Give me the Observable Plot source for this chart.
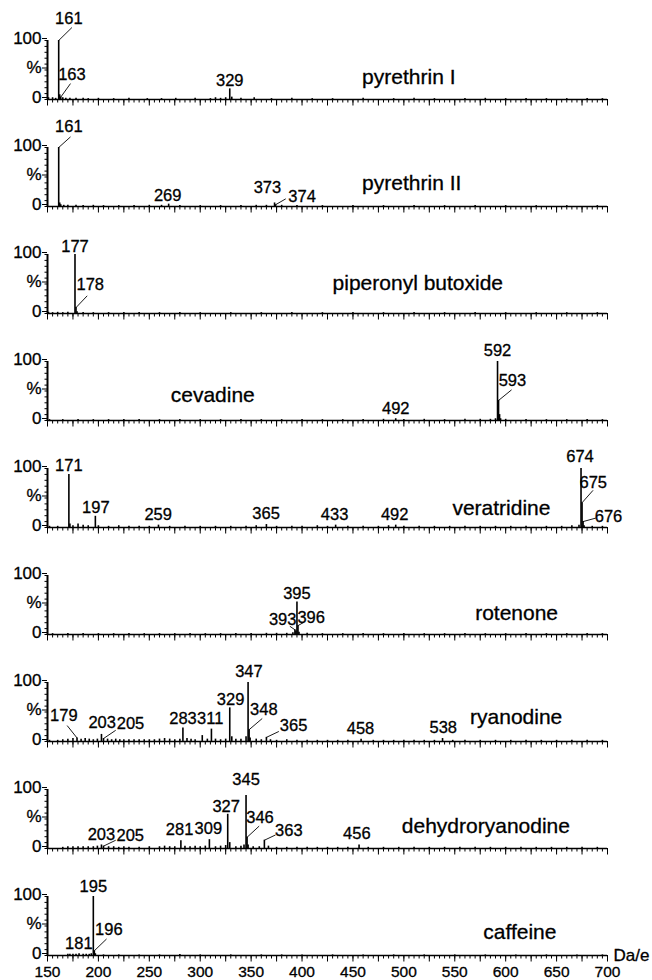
<!DOCTYPE html>
<html>
<head>
<meta charset="utf-8">
<script src="https://cdn.jsdelivr.net/npm/d3@7"></script>
<script src="https://cdn.jsdelivr.net/npm/@observablehq/plot@0.6"></script>
<style>
html, body { margin: 0; padding: 0; background: #fff; }
#chart svg { display: block; }
#chart svg text { stroke: #000; stroke-width: 0.3px; }
</style>
</head>
<body>
<div id="chart"></div>
<script>
// ---------- data ----------
const compounds = ["pyrethrin I", "pyrethrin II", "piperonyl butoxide", "cevadine", "veratridine",
  "rotenone", "ryanodine", "dehydroryanodine", "caffeine"];
const xDomain = [150, 700];
const massTickLabels = [150, 200, 250, 300, 350, 400, 450, 500, 550, 600, 650, 700];
const pctTicks = [0, 50, 100];
const pctTickLabels = ["0", "%", "100"];
const axisUnit = "Da/e";

// peaks: [m/z, relative intensity %]
const peaksPyrethrinI = [[151,3],[155,3],[158,2],[161,100],[162,8],[163,4],[165,3],[168,2],[172,2],[178,2],[185,2],[190,1.5],[200,2],[215,1.5],[230,2],[248,1.5],[262,1.5],[276,2],[295,2],[310,1.5],[315,3],[320,2],[325,3],[329,18],[331,4],[340,2],[353,3],[370,1.5],[390,2],[410,1.5],[430,1.5],[460,2],[490,1.5],[510,2],[530,1.5],[560,1.5],[580,2],[600,1.5],[620,1.5],[640,1.5],[660,1.5],[680,1.5],[695,1.5]];
const peaksPyrethrinII = [[161,100],[162,6],[163,3],[166,2],[170,2],[178,2],[185,1.5],[195,2],[205,1.5],[220,1.5],[235,1.5],[250,2],[262,2],[269,4],[280,1.5],[300,1.5],[320,1.5],[340,1.5],[355,2],[365,2],[373,6],[374,3],[380,2],[395,1.5],[420,1.5],[450,1.5],[480,1.5],[510,1.5],[540,1.5],[570,1.5],[600,1.5],[630,1.5],[660,1.5],[690,1.5]];
const peaksPiperonyl = [[151,2],[155,1.5],[160,2],[165,1.5],[170,2],[177,100],[178,10],[179,3],[185,1.5],[195,1.5],[210,1.5],[225,1.5],[240,1.5],[260,1.5],[280,1.5],[300,1.5],[330,1.5],[360,1.5],[390,1.5],[420,1.5],[450,1.5],[480,1.5],[510,1.5],[540,1.5],[570,1.5],[600,1.5],[630,1.5],[660,1.5],[690,1.5]];
const peaksCevadine = [[152,1.5],[165,1.5],[180,1.5],[195,1.5],[210,1.5],[225,1.5],[240,1.5],[260,1.5],[280,1.5],[300,1.5],[320,1.5],[340,1.5],[360,1.5],[380,1.5],[400,1.5],[420,1.5],[440,1.5],[460,1.5],[480,2],[492,3],[500,1.5],[520,2],[540,1.5],[560,2],[575,2],[585,2],[590,3],[592,100],[593,34],[594,10],[595,3],[600,2],[620,1.5],[640,1.5],[660,1.5],[680,1.5],[695,1.5]];
const peaksVeratridine = [[152,2],[160,2],[171,90],[172,6],[175,3],[180,6],[185,4],[190,3],[197,19],[200,3],[210,2],[220,3],[230,2],[240,2],[250,2],[259,4],[270,2],[285,2],[300,2],[315,2],[330,2],[345,2],[355,3],[365,5],[375,2],[390,2],[400,2],[415,3],[425,2],[433,4],[445,2],[460,2],[475,2],[485,3],[492,4],[500,2],[515,2],[530,2],[545,2],[560,2],[575,2],[590,2],[605,2],[620,2],[640,2],[655,2],[665,3],[672,4],[674,100],[675,42],[676,10],[677,3],[685,2],[695,2]];
const peaksRotenone = [[155,1.5],[170,1.5],[185,1.5],[200,1.5],[215,1.5],[230,1.5],[245,1.5],[260,1.5],[275,1.5],[290,1.5],[305,1.5],[320,1.5],[335,1.5],[350,1.5],[365,2],[375,2],[385,2],[391,3],[393,8],[394,6],[395,55],[396,15],[397,4],[405,2],[420,1.5],[440,1.5],[460,1.5],[480,1.5],[500,1.5],[520,1.5],[540,1.5],[560,1.5],[580,1.5],[600,1.5],[620,1.5],[640,1.5],[660,1.5],[680,1.5],[695,1.5]];
const peaksRyanodine = [[152,2],[160,2],[165,3],[170,4],[175,5],[179,6],[183,4],[187,5],[191,4],[195,3],[199,4],[203,12],[205,5],[209,4],[213,3],[217,4],[221,3],[225,3],[230,3],[235,3],[240,3],[245,3],[250,3],[255,3],[260,4],[265,5],[270,4],[275,3],[280,4],[283,23],[287,5],[291,4],[295,3],[302,10],[307,4],[311,21],[315,4],[320,3],[325,4],[329,57],[331,8],[335,4],[340,4],[345,8],[347,100],[348,20],[349,6],[355,4],[360,3],[365,7],[369,3],[375,2],[385,3],[395,2],[405,2],[415,2],[425,2],[435,2],[445,2],[458,4],[470,2],[480,2],[490,2],[500,2],[510,2],[520,2],[530,2],[538,5],[548,2],[560,2],[575,2],[590,2],[605,2],[620,2],[635,2],[650,2],[665,2],[680,2],[695,2]];
const peaksDehydroryanodine = [[165,2],[170,3],[175,3],[180,3],[185,3],[190,3],[195,3],[199,4],[203,6],[205,4],[210,3],[215,3],[220,2],[225,3],[230,2],[240,2],[250,3],[260,3],[265,4],[270,3],[275,3],[281,13],[285,4],[290,3],[295,4],[300,3],[305,4],[309,15],[315,3],[320,4],[325,5],[327,58],[329,10],[335,3],[340,4],[343,6],[345,90],[346,19],[347,6],[352,3],[358,3],[363,14],[367,4],[375,2],[385,2],[395,2],[405,2],[415,2],[425,2],[435,2],[445,2],[456,6],[465,2],[480,2],[495,2],[510,2],[525,2],[540,2],[555,2],[570,2],[585,2],[600,2],[615,2],[630,2],[645,2],[660,2],[675,2],[690,2]];
const peaksCaffeine = [[170,2],[172,2],[175,2],[178,2],[181,3],[185,2],[188,2],[191,2],[193,3],[195,100],[196,8],[197,3],[205,1],[220,1],[240,1],[260,1],[280,1.5],[300,1],[330,1],[360,1],[380,1],[400,1],[430,1],[460,1],[490,1],[520,1],[550,1],[580,1],[610,1],[640,1],[670,1],[695,1]];

// ---------- annotation layout (data units: Da, %) ----------
// [labelled peak m/z, label centre m/z, label centre %, leader end m/z, leader end %]
const labelsPyrethrinI = [[161,171,137,174,122],[163,174,42,172.6,27],[329,329,31]];
const labelsPyrethrinII = [[161,171,135,172.6,118],[269,268,19],[373,366,31],[374,400,16,384,13]];
const labelsPiperonyl = [[177,177,113],[178,192,48,189,30]];
const labelsCevadine = [[592,592,118],[593,606.6,68,605.8,52],[492,492,20]];
const labelsVeratridine = [[171,171,105],[197,197.5,34],[259,258.7,22],[365,364.7,23],[433,432,22],[492,491,22],[674,673,120],[675,686,76,685.8,63],[676,701,19,688.6,16]];
const labelsRotenone = [[395,395,69],[393,381,25,388,14],[396,409,29,402,21]];
const labelsRyanodine = [[347,347.8,119],[329,329.8,71],[348,362.5,54,360.9,39],[365,391.7,26,377.2,17],[311,309.8,39],[283,283.1,39],[203,203.7,32],[205,231.5,30,217,19],[179,166,44,169.3,27],[458,457.4,22],[538,538.7,23]];
const labelsDehydroryanodine = [[345,345,117],[327,325.5,70],[346,358.7,52,357.9,38],[363,387,30,374,23],[309,308,33],[281,279.7,31],[203,203,24],[205,231.3,22,217,14],[456,453.8,25]];
const labelsCaffeine = [[195,195,117],[196,210.2,44,208,28],[181,180.8,20]];
// compound name anchor (left edge m/z, %)
const namePositions = [[459,37],[459,39],[430,51],[271,43],[547.7,33],[570,36],[565,41],[498,37],[578,39]];

const peakSets = [peaksPyrethrinI, peaksPyrethrinII, peaksPiperonyl, peaksCevadine, peaksVeratridine,
  peaksRotenone, peaksRyanodine, peaksDehydroryanodine, peaksCaffeine];
const labelSets = [labelsPyrethrinI, labelsPyrethrinII, labelsPiperonyl, labelsCevadine, labelsVeratridine,
  labelsRotenone, labelsRyanodine, labelsDehydroryanodine, labelsCaffeine];

// ---------- drawing ----------
const font = "'Liberation Sans', Arial, Helvetica, sans-serif";
const chart = document.getElementById("chart");
const minorMass = d3.range(xDomain[0], xDomain[1] + 1, 5);
const midMass = d3.range(xDomain[0], xDomain[1] + 1, 25);
const minorPct = d3.range(0, 101, 10);

compounds.forEach((name, i) => {
  const last = i === compounds.length - 1;
  const peaks = peakSets[i].map(([mz, pct]) => ({mz, pct}));
  const top = new Map(peaks.map(d => [d.mz, d.pct]));
  const labels = labelSets[i].map(([mz, tx, ty, lx, ly]) => ({mz, pct: top.get(mz), tx, ty, lx, ly, text: String(mz)}));
  const leaders = labels.filter(d => d.lx != null);
  const title = [{x: namePositions[i][0], y: namePositions[i][1], t: name}];
  const svg = Plot.plot({
    width: 652,
    height: last ? 124 : 107,
    marginLeft: 47,
    marginRight: 45,
    marginTop: 40,
    marginBottom: last ? 25 : 8,
    x: {domain: xDomain},
    y: {domain: [0, 100]},
    style: {fontFamily: font, fontSize: "16px", color: "#000", background: "#fff", overflow: "visible"},
    marks: [
      Plot.axisY(minorPct, {tickSize: 2.5, tickFormat: () => "", label: null}),
      Plot.axisY(pctTicks, {tickSize: 5, tickPadding: 1, label: null, fontSize: 17, dy: -2,
        tickFormat: d => pctTickLabels[pctTicks.indexOf(d)]}),
      Plot.axisX(minorMass, {tickSize: 3.5, tickFormat: () => "", label: null}),
      Plot.axisX(midMass, {tickSize: 6.5, tickPadding: 3.5, label: null, fontSize: 15.5,
        tickFormat: d => (last && massTickLabels.includes(d)) ? String(d) : ""}),
      Plot.ruleY([0], {strokeWidth: 1.6}),
      Plot.ruleX([xDomain[0]], {y1: 0, y2: 100, strokeWidth: 2}),
      Plot.ruleX(peaks, {x: "mz", y1: 0, y2: "pct", strokeWidth: 1.6}),
      Plot.link(leaders, {x1: "mz", y1: "pct", x2: "lx", y2: "ly", strokeWidth: 0.9}),
      Plot.text(labels, {x: "tx", y: "ty", text: "text", fontSize: 16.5, lineAnchor: "middle", fill: "#000"}),
      Plot.text(title, {x: "x", y: "y", text: "t", textAnchor: "start", lineAnchor: "middle", fontSize: 21, fill: "#000"}),
      last ? Plot.text([{x: xDomain[1], y: 0, t: axisUnit}], {x: "x", y: "y", text: "t", dx: 6, textAnchor: "start", lineAnchor: "middle", fontSize: 17, fill: "#000"}) : null
    ]
  });
  chart.appendChild(svg);
});
</script>
</body>
</html>
